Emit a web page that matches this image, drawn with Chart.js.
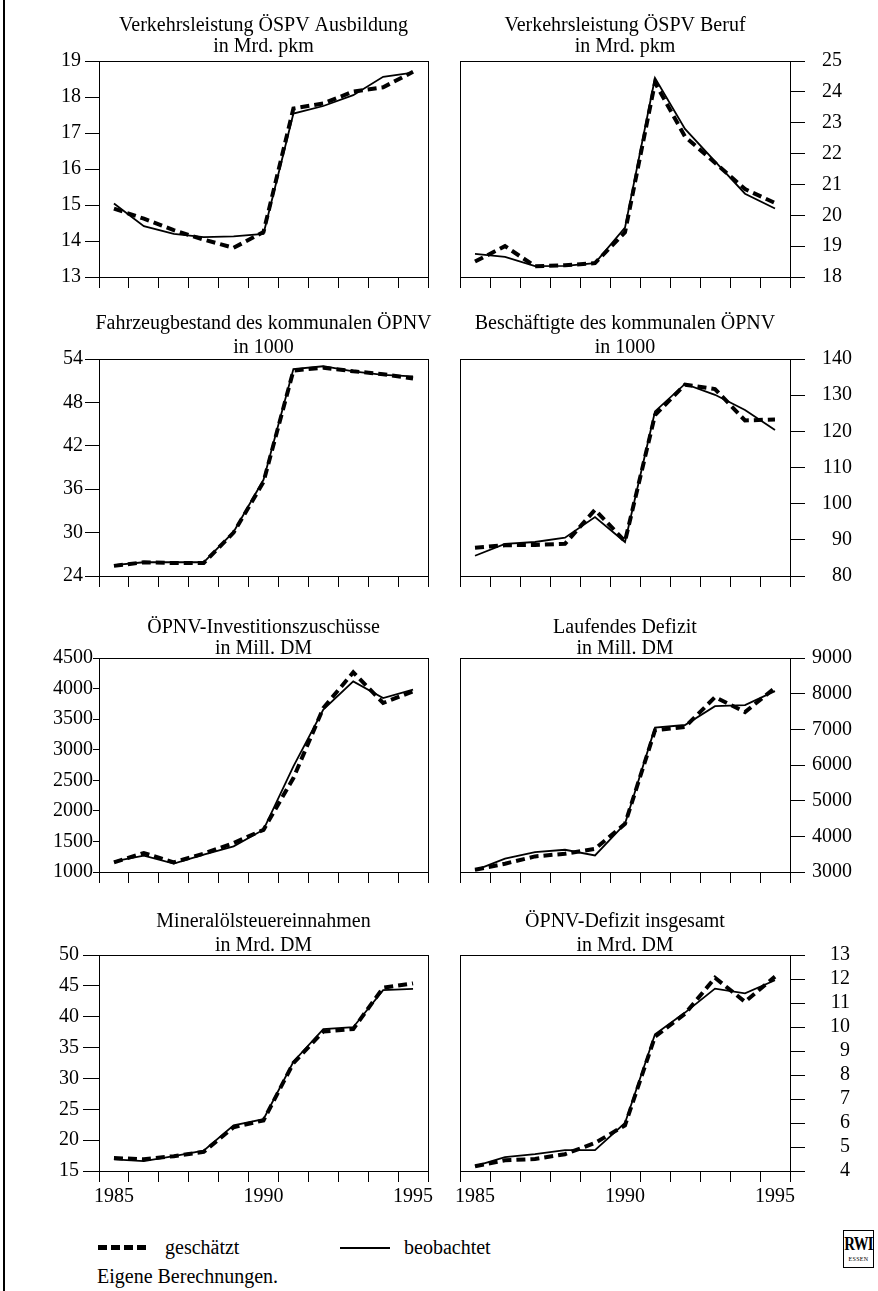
<!DOCTYPE html>
<html lang="de">
<head>
<meta charset="utf-8">
<title>ÖPNV – geschätzt und beobachtet</title>
<script src="https://cdn.jsdelivr.net/npm/chart.js@4.4.1/dist/chart.umd.min.js"></script>
<style>
    body { margin: 0; background: #fff; }
    #page { position: relative; width: 878px; height: 1291px; overflow: hidden; background: #fff;
            font-family: "Liberation Serif", "Times New Roman", serif; color: #000; }
    #page canvas { position: absolute; }
    .rule { position: absolute; left: 3px; top: 0; width: 2px; height: 1291px; background: #000; }
    .txt { position: absolute; font-size: 20px; line-height: 20px; white-space: nowrap; }
    .dash { position: absolute; height: 5px; background: repeating-linear-gradient(90deg, #000 0 9px, transparent 9px 13px); }
    .solid { position: absolute; height: 2px; background: #000; }
    .logo { position: absolute; left: 843px; top: 1230px; width: 29px; height: 36px; border: 1.5px solid #000;
            text-align: center; overflow: hidden; }
    .logo b { display: block; font-size: 19px; line-height: 22px; margin-top: 2px; letter-spacing: -1px;
              transform: scaleX(0.78); transform-origin: center; white-space: nowrap; margin-left: -6px; margin-right: -6px; }
    .logo span { display: block; font-size: 6px; line-height: 8px; letter-spacing: 0.3px; }
</style>
</head>
<body>
<div id="page">
    <div class="rule"></div>
    <div class="dash" style="left:98px; top:1245px; width:52px;"></div>
    <div class="txt" style="left:165px; top:1237px;">geschätzt</div>
    <div class="solid" style="left:340px; top:1247px; width:50px;"></div>
    <div class="txt" style="left:404px; top:1237px;">beobachtet</div>
    <div class="txt" style="left:97px; top:1266px;">Eigene Berechnungen.</div>
    <div class="logo"><b>RWI</b><span>ESSEN</span></div>
</div>
<script>
// Jahre (Kategorien) und beschriftete Jahre
const years = ['1985', '1986', '1987', '1988', '1989', '1990', '1991', '1992', '1993', '1994', '1995'];
const labelledYears = ['1985', '1990', '1995'];

// Verkehrsleistung ÖSPV Ausbildung, Mrd. pkm
const ausbildungEst = [14.9, 14.62, 14.3, 14.04, 13.81, 14.25, 17.68, 17.82, 18.15, 18.27, 18.7];
const ausbildungObs = [15.04, 14.41, 14.2, 14.11, 14.13, 14.2, 17.54, 17.75, 18.05, 18.56, 18.68];

// Verkehrsleistung ÖSPV Beruf, Mrd. pkm
const berufEst = [18.5, 19.0, 18.35, 18.38, 18.45, 19.45, 24.3, 22.55, 21.7, 20.85, 20.4];
const berufObs = [18.75, 18.65, 18.35, 18.36, 18.45, 19.6, 24.45, 22.8, 21.75, 20.7, 20.22];

// Fahrzeugbestand des kommunalen ÖPNV, 1000
const fahrzeugEst = [25.4, 25.9, 25.8, 25.8, 30.0, 37.0, 52.4, 52.8, 52.3, 51.9, 51.3];
const fahrzeugObs = [25.5, 25.9, 25.9, 25.9, 30.1, 37.3, 52.6, 53.0, 52.3, 51.8, 51.6];

// Beschäftigte des kommunalen ÖPNV, 1000
const beschaeftigteEst = [87.8, 88.5, 88.6, 88.9, 98.3, 89.6, 124.5, 132.9, 131.7, 123.0, 123.3];
const beschaeftigteObs = [85.6, 88.9, 89.4, 90.6, 96.3, 89.4, 125.5, 133.1, 130.1, 125.9, 120.4];

// ÖPNV-Investitionszuschüsse, Mill. DM
const investEst = [1158, 1310, 1158, 1300, 1474, 1690, 2537, 3682, 4266, 3764, 3955];
const investObs = [1174, 1267, 1136, 1283, 1420, 1692, 2728, 3655, 4118, 3845, 3982];

// Laufendes Defizit, Mill. DM
const defizitEst = [3065, 3233, 3437, 3512, 3651, 4349, 6972, 7065, 7902, 7484, 8163];
const defizitObs = [3047, 3372, 3558, 3623, 3465, 4349, 7047, 7121, 7651, 7679, 8070];

// Mineralölsteuereinnahmen, Mrd. DM
const mineralEst = [17.1, 16.9, 17.4, 18.1, 22.1, 23.2, 32.5, 37.6, 38.0, 44.7, 45.4];
const mineralObs = [16.9, 16.6, 17.4, 18.3, 22.4, 23.4, 32.7, 38.0, 38.3, 44.3, 44.5];

// ÖPNV-Defizit insgesamt, Mrd. DM
const gesamtEst = [4.2, 4.45, 4.5, 4.7, 5.17, 5.9, 9.6, 10.55, 12.05, 11.05, 12.1];
const gesamtObs = [4.2, 4.58, 4.7, 4.87, 4.87, 6.0, 9.7, 10.6, 11.6, 11.4, 11.95];

// Panel layout
const rowTop = [61, 359, 658, 955];
const rowBottom = [277, 576, 872, 1171];
const titleLift = [[30, 9], [30, 6], [25, 4], [28, 4]];

const panels = [
    { title: ['Verkehrsleistung ÖSPV Ausbildung', 'in Mrd. pkm'], est: ausbildungEst, obs: ausbildungObs, min: 13, max: 19, step: 1, row: 0, side: 'left', tick: 14, pad: 4 },
    { title: ['Verkehrsleistung ÖSPV Beruf', 'in Mrd. pkm'], est: berufEst, obs: berufObs, min: 18, max: 25, step: 1, row: 0, side: 'right', tick: 15, labelRight: 842 },
    { title: ['Fahrzeugbestand des kommunalen ÖPNV', 'in 1000'], est: fahrzeugEst, obs: fahrzeugObs, min: 24, max: 54, step: 6, row: 1, side: 'left', tick: 14, pad: 2 },
    { title: ['Beschäftigte des kommunalen ÖPNV', 'in 1000'], est: beschaeftigteEst, obs: beschaeftigteObs, min: 80, max: 140, step: 10, row: 1, side: 'right', tick: 15, labelRight: 852 },
    { title: ['ÖPNV-Investitionszuschüsse', 'in Mill. DM'], est: investEst, obs: investObs, min: 1000, max: 4500, step: 500, row: 2, side: 'left', tick: 6, pad: 0 },
    { title: ['Laufendes Defizit', 'in Mill. DM'], est: defizitEst, obs: defizitObs, min: 3000, max: 9000, step: 1000, row: 2, side: 'right', tick: 15, labelRight: 852 },
    { title: ['Mineralölsteuereinnahmen', 'in Mrd. DM'], est: mineralEst, obs: mineralObs, min: 15, max: 50, step: 5, row: 3, side: 'left', tick: 16, pad: 4 },
    { title: ['ÖPNV-Defizit insgesamt', 'in Mrd. DM'], est: gesamtEst, obs: gesamtObs, min: 4, max: 13, step: 1, row: 3, side: 'right', tick: 15, labelRight: 850 }
];

Chart.defaults.font.family = '"Liberation Serif", "Times New Roman", serif';
Chart.defaults.font.size = 20;
Chart.defaults.color = '#000';

// frame around the plot area
const plotBox = {
    id: 'plotBox',
    beforeDatasetsDraw(chart) {
        const { ctx, chartArea: a } = chart;
        ctx.save();
        ctx.strokeStyle = '#000';
        ctx.lineWidth = 1;
        ctx.strokeRect(Math.round(a.left) + 0.5, Math.round(a.top) + 0.5,
            Math.round(a.right - a.left), Math.round(a.bottom - a.top));
        ctx.restore();
    }
};

// two-line heading centred over the plot area
const panelTitle = {
    id: 'panelTitle',
    afterDraw(chart, args, opts) {
        const { ctx, chartArea: a } = chart;
        const cx = (a.left + a.right) / 2;
        ctx.save();
        ctx.font = '20px "Liberation Serif", serif';
        ctx.fillStyle = '#000';
        ctx.textAlign = 'center';
        ctx.textBaseline = 'alphabetic';
        opts.lines.forEach((line, i) => ctx.fillText(line, cx, a.top - opts.lift[i]));
        ctx.restore();
    }
};

const page = document.getElementById('page');
const topPad = 60;
const xAxisHeight = 40;

panels.forEach((p) => {
    const isLeft = p.side === 'left';
    const canvas = document.createElement('canvas');
    const width = isLeft ? 440 : 438;
    const height = topPad + (rowBottom[p.row] - rowTop[p.row]) + xAxisHeight;
    canvas.width = width;
    canvas.height = height;
    canvas.style.left = (isLeft ? 0 : 440) + 'px';
    canvas.style.top = (rowTop[p.row] - topPad) + 'px';
    canvas.style.width = width + 'px';
    canvas.style.height = height + 'px';
    page.appendChild(canvas);

    const padding = isLeft
        ? { top: topPad, left: 0, right: 12, bottom: 0 }
        : { top: topPad, left: 20, right: 878 - p.labelRight, bottom: 0 };
    const yWidth = isLeft ? 99 : p.labelRight - 790;
    const bottomRow = p.row === 3;

    new Chart(canvas, {
        type: 'line',
        data: {
            labels: years,
            datasets: [
                {
                    label: 'geschätzt',
                    data: p.est,
                    borderColor: '#000',
                    borderWidth: 4,
                    borderDash: [9, 5],
                    pointRadius: 0,
                    tension: 0,
                    fill: false
                },
                {
                    label: 'beobachtet',
                    data: p.obs,
                    borderColor: '#000',
                    borderWidth: 1.8,
                    pointRadius: 0,
                    tension: 0,
                    fill: false
                }
            ]
        },
        options: {
            responsive: false,
            animation: false,
            devicePixelRatio: 1,
            layout: { padding: padding },
            plugins: {
                legend: { display: false },
                tooltip: { enabled: false },
                panelTitle: { lines: p.title, lift: titleLift[p.row] }
            },
            scales: {
                x: {
                    type: 'category',
                    offset: true,
                    border: { display: false },
                    grid: {
                        offset: true,
                        drawOnChartArea: false,
                        drawTicks: true,
                        tickLength: 11,
                        color: '#000',
                        lineWidth: 1
                    },
                    ticks: {
                        autoSkip: false,
                        maxRotation: 0,
                        padding: 3,
                        callback: function (value) {
                            const lab = this.getLabelForValue(value);
                            return bottomRow && labelledYears.includes(lab) ? lab : '';
                        }
                    },
                    afterFit: (scale) => { scale.height = xAxisHeight; }
                },
                y: {
                    position: p.side,
                    min: p.min,
                    max: p.max,
                    border: { display: false },
                    grid: {
                        drawOnChartArea: false,
                        drawTicks: true,
                        tickLength: p.tick,
                        color: '#000',
                        lineWidth: 1
                    },
                    ticks: {
                        stepSize: p.step,
                        autoSkip: false,
                        padding: isLeft ? p.pad : 0,
                        crossAlign: isLeft ? 'near' : 'far',
                        callback: (value) => String(value)
                    },
                    afterFit: (scale) => { scale.width = yWidth; }
                }
            }
        },
        plugins: [plotBox, panelTitle]
    });
});
</script>
</body>
</html>
